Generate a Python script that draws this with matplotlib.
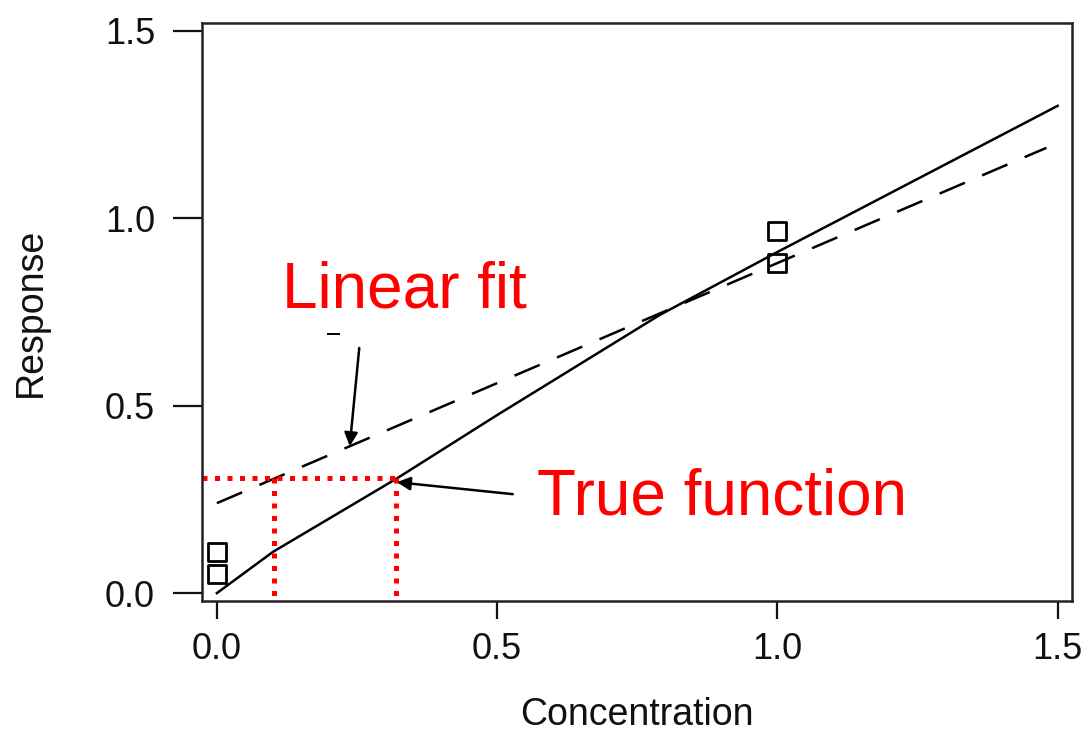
import matplotlib
matplotlib.use("Agg")
from matplotlib import pyplot as plt

# data
true_x = [0.0, 0.1, 0.32, 0.5, 0.79, 1.0, 1.5]
true_y = [0.0, 0.11, 0.305, 0.475, 0.742, 0.91, 1.30]
fit_x = [0.0, 1.48]
fit_y = [0.24, 1.188]
obs_x = [0.0, 0.0, 1.0, 1.0]
obs_y = [0.11, 0.05, 0.965, 0.88]
level_y = 0.307
level_x = [0.102, 0.32]
ticks = [0.0, 0.5, 1.0, 1.5]
tick_labels = ["0.0", "0.5", "1.0", "1.5"]

plt.rcParams['font.family'] = ['Liberation Sans', 'DejaVu Sans']

fig = plt.figure(figsize=(10.9, 7.34), dpi=100)
ax = fig.add_axes([0.1856, 0.1812, 0.7976, 0.7875])

ax.plot(true_x, true_y, color="black", lw=1.8)
ax.plot(fit_x, fit_y, color="black", lw=1.8, dashes=(11, 7.5))
ax.scatter(obs_x, obs_y, marker="s", s=165, facecolors="none",
           edgecolors="black", linewidths=2, zorder=3)

# red dotted guide lines
red = "#ff0000"
ax.plot([-0.026, level_x[1]], [level_y, level_y], color=red, lw=3.6,
        dashes=(1.0, 1.5))
for xv in level_x:
    ax.plot([xv, xv], [level_y, -0.021], color=red, lw=3.6, dashes=(1.0, 1.5))

# annotations
ax.annotate("", xy=(0.237, 0.392), xytext=(0.254, 0.654),
            arrowprops=dict(arrowstyle="-|>", color="black", lw=1.8,
                            mutation_scale=20, shrinkA=0, shrinkB=0))
ax.plot([0.199, 0.218], [0.691, 0.691], color="black", lw=1.4)
ax.annotate("", xy=(0.321, 0.296), xytext=(0.528, 0.264),
            arrowprops=dict(arrowstyle="-|>", color="black", lw=1.8,
                            mutation_scale=20, shrinkA=0, shrinkB=0))
ax.text(0.116, 0.762, "Linear fit", color=red, fontsize=46,
        ha="left", va="baseline")
ax.text(0.571, 0.211, "True function", color=red, fontsize=46,
        ha="left", va="baseline")

ax.set_xlim(-0.026, 1.525)
ax.set_ylim(-0.021, 1.521)
ax.set_xticks(ticks)
ax.set_xticklabels(tick_labels)
ax.set_yticks(ticks)
ax.set_yticklabels(tick_labels)
ax.tick_params(axis="x", length=13, width=1.6, labelsize=26, pad=9,
               colors="#111111")
ax.tick_params(axis="y", length=21, width=1.6, labelsize=26, pad=13,
               colors="#111111")
for sp in ax.spines.values():
    sp.set_linewidth(1.8)
    sp.set_color("#222222")

ax.set_xlabel("Concentration", fontsize=27, color="#111111", labelpad=22)
ax.set_ylabel("Response", fontsize=27, color="#111111", labelpad=40)

fig.savefig("out.png", dpi=100)
